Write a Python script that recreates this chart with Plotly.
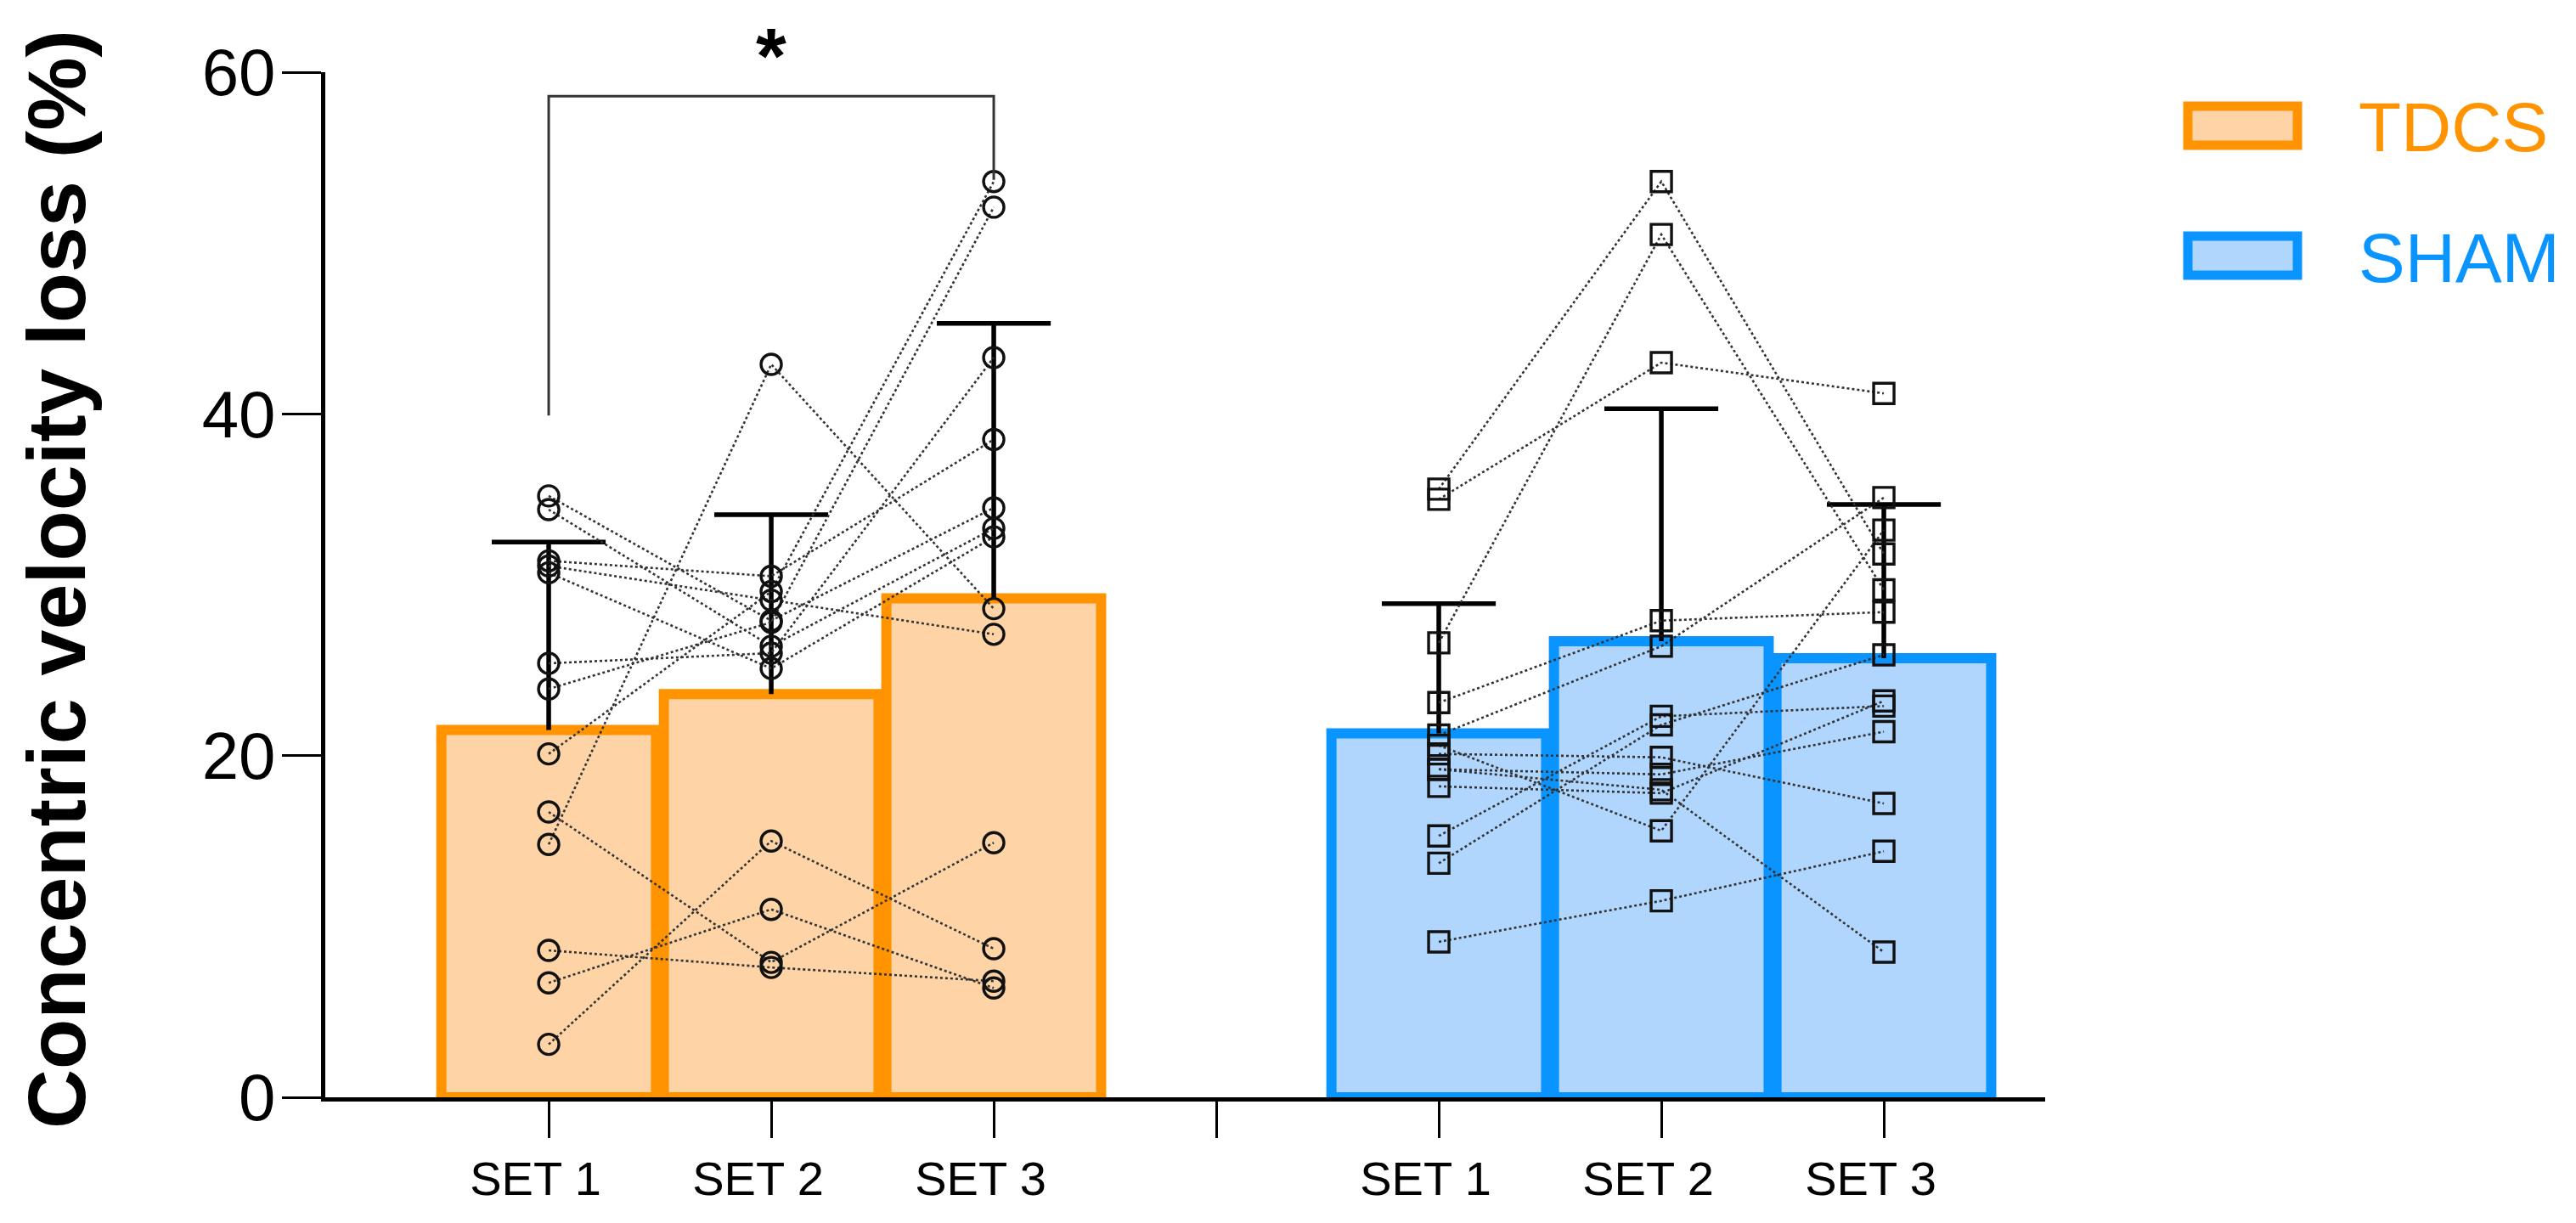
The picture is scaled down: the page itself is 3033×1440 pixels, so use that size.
import plotly.graph_objects as go

# ---------------- data ----------------
NB = "\u00a0\u00a0"
tick_labels = ["SET 1" + NB, "SET 2" + NB, "SET 3" + NB, "", "SET 1" + NB, "SET 2" + NB, "SET 3" + NB]
tick_pos = [0, 1, 2, 3, 4, 5, 6]
tdcs_x = [0, 1, 2]
sham_x = [4, 5, 6]

tdcs_mean = [21.5, 23.6, 29.2]
tdcs_sd = [11.0, 10.5, 16.1]
sham_mean = [21.3, 26.7, 25.7]
sham_sd = [7.6, 13.6, 9.0]

# individual participants (same index = same participant)
tdcs_set1 = [3.1, 6.7, 8.6, 16.7, 14.8, 20.1, 23.9, 25.4, 31.4, 31.1, 30.7, 35.2, 34.4]
tdcs_set2 = [15.0, 11.0, 7.6, 7.9, 42.9, 29.6, 27.8, 26.0, 30.5, 29.1, 25.1, 27.9, 26.4]
tdcs_set3 = [8.7, 6.4, 6.8, 14.9, 28.6, 53.6, 52.1, 43.3, 38.5, 27.1, 32.8, 34.5, 33.3]

sham_set1 = [35.6, 26.6, 35.0, 9.1, 23.1, 21.2, 15.3, 13.7, 20.6, 20.1, 19.2, 19.2, 18.2]
sham_set2 = [53.6, 50.5, 43.0, 11.5, 27.9, 26.4, 22.3, 21.8, 15.6, 19.9, 18.9, 18.0, 17.8]
sham_set3 = [31.8, 29.7, 41.2, 14.4, 28.4, 35.1, 22.9, 25.9, 33.2, 17.2, 21.4, 8.5, 23.2]

sig_pair = [0, 2]
sig_top = 58.6
sig_left_bottom = 39.9
sig_right_bottom = 53.7

# ---------------- style ----------------
W, H = 3033, 1440
L, T = 383, 85            # plot area left/top in window pixels
PW, PH = 2025, 1207       # plot area size
BODY = 8                  # default html body margin
ORANGE, ORANGE_FILL = "#FF9300", "#FED4A6"
BLUE, BLUE_FILL = "#0A94FF", "#B1D6FD"
FONT = "Liberation Sans, Arial, Helvetica, sans-serif"


def px(xp):
    return (xp - L) / PW


def py(yp):
    return (T + PH - yp) / PH


fig = go.Figure()

for xs, means, line_c, fill_c in [(tdcs_x, tdcs_mean, ORANGE, ORANGE_FILL),
                                  (sham_x, sham_mean, BLUE, BLUE_FILL)]:
    fig.add_trace(go.Bar(x=xs, y=means, width=0.965,
                         marker=dict(color=fill_c, line=dict(color=line_c, width=12)),
                         showlegend=False, hoverinfo="skip"))

# error bars (mean + SD, upper only)
cap = 0.256
for xs, means, sds in [(tdcs_x, tdcs_mean, tdcs_sd), (sham_x, sham_mean, sham_sd)]:
    ex, ey = [], []
    for x, m, s in zip(xs, means, sds):
        ex += [x, x, None, x - cap, x + cap, None]
        ey += [m, m + s, None, m + s, m + s, None]
    fig.add_trace(go.Scatter(x=ex, y=ey, mode="lines",
                             line=dict(color="black", width=5.5),
                             showlegend=False, hoverinfo="skip"))

# participant lines
for xs, s1, s2, s3 in [(tdcs_x, tdcs_set1, tdcs_set2, tdcs_set3),
                       (sham_x, sham_set1, sham_set2, sham_set3)]:
    for a, b, c in zip(s1, s2, s3):
        fig.add_trace(go.Scatter(x=xs, y=[a, b, c], mode="lines",
                                 line=dict(color="#333333", width=2.6, dash="dot"),
                                 showlegend=False, hoverinfo="skip"))

# participant markers
for xs, s1, s2, s3, sym in [(tdcs_x, tdcs_set1, tdcs_set2, tdcs_set3, "circle-open"),
                            (sham_x, sham_set1, sham_set2, sham_set3, "square-open")]:
    mx = [xs[0]] * len(s1) + [xs[1]] * len(s2) + [xs[2]] * len(s3)
    my = list(s1) + list(s2) + list(s3)
    fig.add_trace(go.Scatter(x=mx, y=my, mode="markers",
                             marker=dict(symbol=sym, size=24, color="#111111",
                                         line=dict(width=3.4, color="#111111")),
                             showlegend=False, hoverinfo="skip"))

# significance bracket
fig.add_trace(go.Scatter(x=[sig_pair[0], sig_pair[0], sig_pair[1], sig_pair[1]],
                         y=[sig_left_bottom, sig_top, sig_top, sig_right_bottom],
                         mode="lines", line=dict(color="#333333", width=3),
                         showlegend=False, hoverinfo="skip", cliponaxis=False))
fig.add_annotation(x=(sig_pair[0] + sig_pair[1]) / 2, xref="x", yref="paper", y=py(66),
                   text="<b>*</b>", showarrow=False,
                   font=dict(size=92, color="black", family=FONT),
                   yanchor="middle", xanchor="center")

# legend (drawn manually)
for label, yc, lc, fc in [("TDCS", 148, ORANGE, ORANGE_FILL), ("SHAM", 301, BLUE, BLUE_FILL)]:
    fig.add_shape(type="rect", xref="paper", yref="paper",
                  x0=px(2576), x1=px(2705), y0=py(yc + 23), y1=py(yc - 23),
                  line=dict(color=lc, width=11), fillcolor=fc)
    fig.add_annotation(xref="paper", yref="paper", x=px(2775), y=py(yc + 2), text=label,
                       showarrow=False, xanchor="left", yanchor="middle",
                       font=dict(size=82, color=lc, family=FONT))

# y-axis title
fig.add_annotation(xref="paper", yref="paper", x=px(66), y=py(682),
                   text="Concentric velocity loss (%)", textangle=-90, showarrow=False,
                   xanchor="center", yanchor="middle",
                   font=dict(size=97, color="black", weight="bold", family=FONT))

fig.update_layout(
    width=W, height=H,
    margin=dict(l=L - BODY, r=W - (L - BODY) - PW, t=T - BODY, b=H - (T - BODY) - PH, pad=0,
                autoexpand=False),
    plot_bgcolor="white", paper_bgcolor="white",
    barmode="overlay",
    xaxis=dict(range=[-1.004, 6.725], tickmode="array", tickvals=tick_pos, ticktext=tick_labels,
               showline=True, linecolor="black", linewidth=4.5, ticks="outside",
               ticklen=43, tickwidth=3, tickcolor="black", showgrid=False, zeroline=False,
               automargin=False,
               tickfont=dict(size=56, color="black", family=FONT)),
    yaxis=dict(range=[0, 60], tickmode="array", tickvals=[0, 20, 40, 60],
               showline=True, linecolor="black", linewidth=5, ticks="outside",
               ticklen=46, tickwidth=3, tickcolor="black", showgrid=False, zeroline=False,
               automargin=False, ticklabelstandoff=-8,
               tickfont=dict(size=78, color="black", family=FONT)),
)

fig.write_html("out.html")
